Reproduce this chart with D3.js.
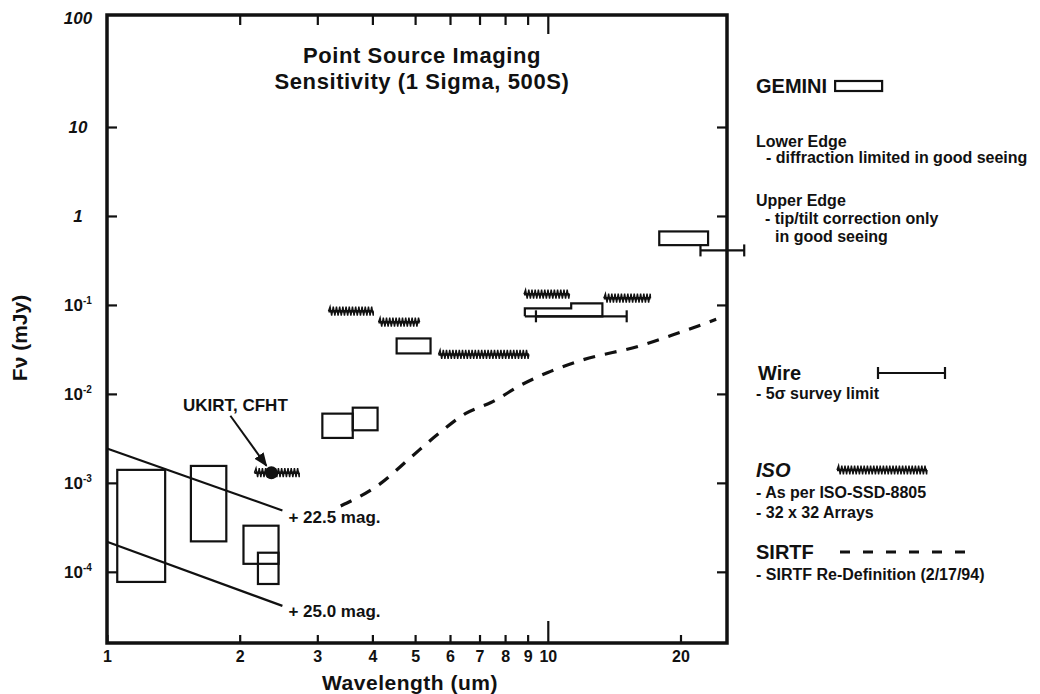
<!DOCTYPE html>
<html>
<head>
<meta charset="utf-8">
<script src="https://cdn.jsdelivr.net/npm/d3@7"></script>
<style>
  body { margin: 0; background: #fff; }
  text { font-family: "Liberation Sans", Arial, sans-serif; font-weight: bold; fill: #111; }
</style>
</head>
<body>
<svg id="chart" width="1040" height="694"></svg>
<script>
// ---- data (wavelength in um, flux in mJy) ----
const xTicks = [1, 2, 3, 4, 5, 6, 7, 8, 9, 10, 20];
const yTicks = [100, 10, 1, 0.1, 0.01, 0.001, 0.0001];
const yTickBase = ['100', '10', '1', '10', '10', '10', '10'];
const yTickExp = ['', '', '', '-1', '-2', '-3', '-4'];

// GEMINI boxes: [lambda0, lambda1, fLow, fHigh]
const geminiBoxes = [
  [1.055, 1.355, 7.7e-5, 1.4e-3],
  [1.55, 1.865, 2.2e-4, 1.55e-3],
  [2.04, 2.45, 1.23e-4, 3.3e-4],
  [2.2, 2.45, 7.3e-5, 1.64e-4],
  [3.08, 3.61, 3.2e-3, 6.0e-3],
  [3.61, 4.11, 3.9e-3, 7.0e-3],
  [4.54, 5.42, 0.0285, 0.042],
  [17.9, 23.1, 0.47, 0.67]
];
// stepped GEMINI outline near 10 um
const geminiStep = [
  [8.87, 0.0745], [8.87, 0.0916], [11.3, 0.0916], [11.3, 0.104],
  [13.3, 0.104], [13.3, 0.0745], [8.87, 0.0745]
];
// ISO bands: [lambda0, lambda1, flux]
const isoBands = [
  [2.16, 2.73, 1.3e-3],
  [3.18, 4.02, 0.085],
  [4.13, 5.12, 0.064],
  [5.65, 9.06, 0.0278],
  [8.83, 11.2, 0.132],
  [13.4, 17.1, 0.119]
];
// Wire survey limits: [lambda0, lambda1, flux]
const wireBars = [
  [9.4, 15.1, 0.0745],
  [22.2, 27.9, 0.41]
];
// SIRTF re-definition curve
const sirtfCurve = [
  [3.39, 5.5e-4], [4.17, 9.8e-4], [4.88, 1.92e-3], [5.7, 3.7e-3],
  [6.5, 6.0e-3], [7.43, 8.0e-3], [8.83, 0.0131], [10, 0.0174],
  [11.9, 0.0238], [16.3, 0.035], [19.1, 0.0455], [24.1, 0.0689]
];
// magnitude lines
const magLabels = ['+ 22.5 mag.', '+ 25.0 mag.'];
const magLines = [
  [[1, 2.43e-3], [2.5, 4.9e-4]],
  [[1, 2.18e-4], [2.5, 4.14e-5]]
];
const ukirtPoint = [2.36, 1.3e-3];

// ---- layout ----
const pLeft = 107, pRight = 727, pTop = 15, pBottom = 643;
const svg = d3.select('#chart');

const x = d3.scaleLog().domain([1, 25.5]).range([pLeft, pRight]);
// the scanned original has a slightly taller top decade
const y = d3.scaleLog()
  .domain([Math.pow(10, -4.8), 10, 100])
  .range([pBottom, 127, 18]);

const chart = svg.append('g');

// ticks (inward) on all four sides
const bottomAxis = chart.append('g')
  .attr('transform', `translate(0, ${pBottom})`)
  .call(d3.axisBottom(x).tickValues(xTicks).tickSize(-8).tickPadding(8).tickFormat(d3.format('d')));
bottomAxis.selectAll('.tick').filter(d => d === 10).select('line').attr('y2', -22);
bottomAxis.selectAll('text').style('font-size', '16px').attr('fill', '#111');

const topAxis = chart.append('g')
  .attr('transform', `translate(0, ${pTop})`)
  .call(d3.axisTop(x).tickValues(xTicks.filter(d => d > 1 && d <= 10)).tickSize(-10).tickFormat(''));
topAxis.selectAll('.tick').filter(d => d === 10).select('line').attr('y2', 19);

chart.append('g')
  .attr('transform', `translate(${pLeft}, 0)`)
  .call(d3.axisLeft(y).tickValues(yTicks.slice(1)).tickSize(-10).tickFormat(''));
chart.append('g')
  .attr('transform', `translate(${pRight}, 0)`)
  .call(d3.axisRight(y).tickValues(yTicks.slice(1)).tickSize(-10).tickFormat(''));

chart.selectAll('.domain').remove();
chart.selectAll('.tick line').attr('stroke', '#111').attr('stroke-width', 2.2);

// frame
chart.append('rect')
  .attr('x', pLeft).attr('y', pTop)
  .attr('width', pRight - pLeft).attr('height', pBottom - pTop)
  .attr('fill', 'none').attr('stroke', '#111').attr('stroke-width', 3.5);

// y tick labels with superscripts
const yLab = chart.selectAll('.ylab')
  .data(yTicks)
  .enter()
  .append('text')
  .attr('class', 'ylab')
  .attr('x', 78)
  .attr('y', d => y(d) + 6)
  .attr('text-anchor', 'middle')
  .style('font-size', '17px')
  .style('font-style', (d, i) => yTickExp[i] ? 'normal' : 'italic');
yLab.append('tspan').text((d, i) => yTickBase[i]);
yLab.append('tspan')
  .attr('dy', -7)
  .style('font-size', '10px')
  .text((d, i) => yTickExp[i]);

// axis titles
svg.append('text')
  .attr('x', 410).attr('y', 690)
  .attr('text-anchor', 'middle')
  .style('font-size', '21px')
  .style('letter-spacing', '0.5px')
  .text('Wavelength (um)');

svg.append('text')
  .attr('transform', 'translate(27, 338) rotate(-90)')
  .attr('text-anchor', 'middle')
  .style('font-size', '21px')
  .text('F\u03bd (mJy)');

// title
svg.append('text')
  .attr('x', 422).attr('y', 63)
  .attr('text-anchor', 'middle')
  .style('font-size', '22px')
  .style('letter-spacing', '0.6px')
  .text('Point Source Imaging');
svg.append('text')
  .attr('x', 422).attr('y', 89)
  .attr('text-anchor', 'middle')
  .style('font-size', '22px')
  .style('letter-spacing', '0.6px')
  .text('Sensitivity (1 Sigma, 500S)');

// magnitude lines
const line = d3.line().x(d => x(d[0])).y(d => y(d[1]));
chart.selectAll('.mag')
  .data(magLines)
  .enter()
  .append('path')
  .attr('d', line)
  .attr('fill', 'none')
  .attr('stroke', '#111')
  .attr('stroke-width', 2.2);
chart.selectAll('.maglab')
  .data(magLines)
  .enter()
  .append('text')
  .attr('x', d => x(d[1][0]) + 6)
  .attr('y', (d, i) => y(d[1][1]) + (i === 0 ? 13 : 11))
  .style('font-size', '17px')
  .text((d, i) => magLabels[i]);

// GEMINI boxes
chart.selectAll('.gbox')
  .data(geminiBoxes)
  .enter()
  .append('rect')
  .attr('x', d => x(d[0]))
  .attr('y', d => y(d[3]))
  .attr('width', d => x(d[1]) - x(d[0]))
  .attr('height', d => y(d[2]) - y(d[3]))
  .attr('fill', 'none')
  .attr('stroke', '#111')
  .attr('stroke-width', 2.2);
chart.append('path')
  .datum(geminiStep)
  .attr('d', line)
  .attr('fill', 'none')
  .attr('stroke', '#111')
  .attr('stroke-width', 2.2);

// ISO zigzag bands
function zigzag(x0, x1, yc, amp) {
  let p = `M${x0},${yc}`;
  let up = true;
  for (let xx = x0 + 1.6; xx < x1; xx += 1.6) {
    p += `L${xx},${yc + (up ? -amp : amp)}`;
    up = !up;
  }
  p += `L${x1},${yc}`;
  return p;
}
chart.selectAll('.iso')
  .data(isoBands)
  .enter()
  .append('path')
  .attr('d', d => zigzag(x(d[0]), x(d[1]), y(d[2]), 4.5))
  .attr('fill', 'none')
  .attr('stroke', '#111')
  .attr('stroke-width', 1.4);
chart.selectAll('.isoline')
  .data(isoBands)
  .enter()
  .append('line')
  .attr('x1', d => x(d[0])).attr('x2', d => x(d[1]))
  .attr('y1', d => y(d[2])).attr('y2', d => y(d[2]))
  .attr('stroke', '#111')
  .attr('stroke-width', 2.5);

// Wire bars
const wire = chart.selectAll('.wire')
  .data(wireBars)
  .enter()
  .append('g');
wire.append('line')
  .attr('x1', d => x(d[0])).attr('x2', d => x(d[1]))
  .attr('y1', d => y(d[2])).attr('y2', d => y(d[2]))
  .attr('stroke', '#111').attr('stroke-width', 2.2);
[0, 1].forEach(k => {
  wire.append('line')
    .attr('x1', d => x(d[k])).attr('x2', d => x(d[k]))
    .attr('y1', d => y(d[2]) - 6).attr('y2', d => y(d[2]) + 6)
    .attr('stroke', '#111').attr('stroke-width', 2.2);
});

// SIRTF dashed curve
chart.append('path')
  .datum(sirtfCurve)
  .attr('d', d3.line().x(d => x(d[0])).y(d => y(d[1])).curve(d3.curveMonotoneX))
  .attr('fill', 'none')
  .attr('stroke', '#111')
  .attr('stroke-width', 3.2)
  .attr('stroke-dasharray', '12,10');

// UKIRT, CFHT point + arrow
const ux = x(ukirtPoint[0]), uy = y(ukirtPoint[1]);
svg.append('defs').append('marker')
  .attr('id', 'arrow')
  .attr('viewBox', '0 0 10 10')
  .attr('refX', 9).attr('refY', 5)
  .attr('markerWidth', 7).attr('markerHeight', 7)
  .attr('orient', 'auto')
  .append('path').attr('d', 'M0,1L10,5L0,9z').attr('fill', '#111');
chart.append('circle')
  .attr('cx', ux).attr('cy', uy).attr('r', 6.5)
  .attr('fill', '#111');
chart.append('line')
  .attr('x1', ux - 41).attr('y1', uy - 57)
  .attr('x2', ux - 5).attr('y2', uy - 7)
  .attr('stroke', '#111').attr('stroke-width', 2)
  .attr('marker-end', 'url(#arrow)');
chart.append('text')
  .attr('x', ux - 36).attr('y', uy - 62)
  .attr('text-anchor', 'middle')
  .style('font-size', '17px')
  .text('UKIRT, CFHT');

// ---- legend ----
const lg = svg.append('g').attr('transform', 'translate(756, 0)');
const gem = lg.append('text').attr('x', 0).attr('y', 93).style('font-size', '20px').text('GEMINI');
const gw = gem.node().getComputedTextLength();
lg.append('rect').attr('x', gw + 8).attr('y', 81).attr('width', 47).attr('height', 10)
  .attr('fill', 'none').attr('stroke', '#111').attr('stroke-width', 2.2);

const small = (t, xx, yy) => lg.append('text').attr('x', xx).attr('y', yy)
  .style('font-size', '16px').text(t);
small('Lower Edge', 0, 147);
small('- diffraction limited in good seeing', 10, 163);
small('Upper Edge', 0, 206);
small('- tip/tilt correction only', 9, 224);
small('in good seeing', 19, 242);

lg.append('text').attr('x', 2).attr('y', 380).style('font-size', '20px').text('Wire');
lg.append('line').attr('x1', 122).attr('x2', 189).attr('y1', 373).attr('y2', 373)
  .attr('stroke', '#111').attr('stroke-width', 2.2);
[122, 189].forEach(xx => lg.append('line').attr('x1', xx).attr('x2', xx)
  .attr('y1', 367).attr('y2', 379).attr('stroke', '#111').attr('stroke-width', 2.2));
small('- 5\u03c3 survey limit', 0, 399);

lg.append('text').attr('x', 0).attr('y', 477).style('font-size', '20px').style('font-style', 'italic').text('ISO');
lg.append('path').attr('d', zigzag(81, 171, 470, 4.5))
  .attr('fill', 'none').attr('stroke', '#111').attr('stroke-width', 1.4);
lg.append('line').attr('x1', 81).attr('x2', 171).attr('y1', 470).attr('y2', 470)
  .attr('stroke', '#111').attr('stroke-width', 2.5);
small('- As per ISO-SSD-8805', 0, 498);
small('- 32 x 32 Arrays', 0, 518);

lg.append('text').attr('x', 0).attr('y', 559).style('font-size', '20px').text('SIRTF');
lg.append('line').attr('x1', 84).attr('x2', 210).attr('y1', 552).attr('y2', 552)
  .attr('stroke', '#111').attr('stroke-width', 3.2).attr('stroke-dasharray', '10,13');
small('- SIRTF Re-Definition (2/17/94)', 0, 580);
</script>
</body>
</html>
